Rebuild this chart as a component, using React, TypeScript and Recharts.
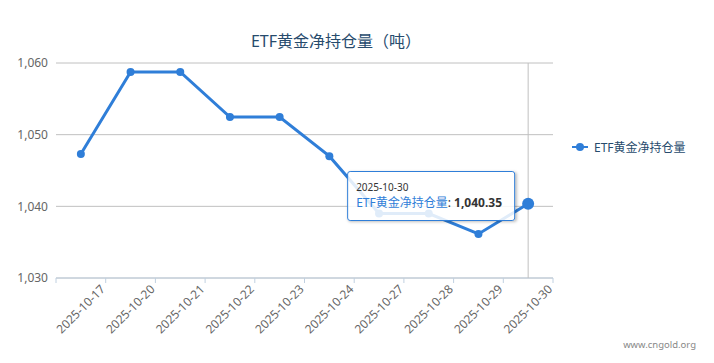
import {
  CartesianGrid,
  Legend,
  Line,
  LineChart,
  Tooltip,
  XAxis,
  YAxis,
} from "recharts";

const SERIES_NAME = "ETF黄金净持仓量";
const TITLE = "ETF黄金净持仓量（吨）";
const LINE_BLUE = "#2f7ed8";
const TITLE_COLOR = "#274b6d";
const FONT = "'Noto Sans', 'Noto Sans CJK SC', sans-serif";

const dates = [
  "2025-10-17",
  "2025-10-20",
  "2025-10-21",
  "2025-10-22",
  "2025-10-23",
  "2025-10-24",
  "2025-10-27",
  "2025-10-28",
  "2025-10-29",
  "2025-10-30",
];
const holdings = [
  1047.3, 1058.75, 1058.75, 1052.45, 1052.45, 1047.0, 1039.0, 1039.0, 1036.15,
  1040.35,
];
const yTicks = [1030, 1040, 1050, 1060];

const data = dates.map((date, i) => ({ date, value: holdings[i] }));

const fmt = (n: number, digits = 0) =>
  n.toLocaleString("en-US", {
    minimumFractionDigits: digits,
    maximumFractionDigits: digits,
  });

// 軸ラベルは -45° 回転、目盛り線はカテゴリの境界に置く
function DateTick(props: any) {
  const { x, y, payload, index, width, visibleTicksCount } = props;
  const step = width / visibleTicksCount;
  const left = x - step / 2;
  const right = x + step / 2;
  const tx = x + 25;
  const ty = y + 12;
  return (
    <g>
      <line x1={left} y1={y} x2={left} y2={y + 5} stroke="#c0d0e0" />
      {index === visibleTicksCount - 1 && (
        <line x1={right} y1={y} x2={right} y2={y + 5} stroke="#c0d0e0" />
      )}
      <text
        x={tx}
        y={ty}
        transform={`rotate(-45 ${tx} ${ty})`}
        textAnchor="end"
        fontSize={12}
        fill="#666"
        fontFamily={FONT}
      >
        {payload.value}
      </text>
    </g>
  );
}

function ChartTooltip({ active, payload, label }: any) {
  if (!active || !payload || payload.length === 0) return null;
  const p = payload[0];
  return (
    <div
      style={{
        width: 168,
        boxSizing: "border-box",
        background: "rgba(255,255,255,0.85)",
        border: `1px solid ${LINE_BLUE}`,
        borderRadius: 3,
        boxShadow: "1px 1px 3px rgba(0,0,0,0.25)",
        padding: "8px 8px 8px 8px",
        fontFamily: FONT,
        color: "#333",
        whiteSpace: "nowrap",
      }}
    >
      <div style={{ fontSize: 10, lineHeight: "14px" }}>{label}</div>
      <div style={{ fontSize: 12, lineHeight: "18px" }}>
        <span style={{ color: LINE_BLUE }}>{SERIES_NAME}</span>:{" "}
        <b>{fmt(p.value, 2)}</b>
      </div>
    </div>
  );
}

function LegendContent() {
  return (
    <div
      style={{
        display: "flex",
        alignItems: "center",
        fontFamily: FONT,
        fontSize: 12,
        color: TITLE_COLOR,
      }}
    >
      <svg width={18} height={12} style={{ marginRight: 4 }}>
        <line x1={0} y1={6} x2={16} y2={6} stroke={LINE_BLUE} strokeWidth={2} />
        <circle cx={8} cy={6} r={4} fill={LINE_BLUE} />
      </svg>
      {SERIES_NAME}
    </div>
  );
}

export default function App() {
  return (
    <div
      style={{
        position: "absolute",
        left: 0,
        top: 0,
        width: 714,
        height: 363,
        background: "#fff",
        fontFamily: FONT,
      }}
    >
      <div
        style={{
          position: "absolute",
          left: 0,
          top: 31,
          width: 672,
          textAlign: "center",
          fontSize: 16,
          lineHeight: "20px",
          color: TITLE_COLOR,
        }}
      >
        {TITLE}
      </div>
      <LineChart
        width={714}
        height={363}
        data={data}
        margin={{ top: 63, right: 21, left: 0, bottom: 0 }}
      >
        <CartesianGrid vertical={false} stroke="#c0c0c0" />
        <XAxis
          dataKey="date"
          scale="band"
          height={85}
          interval={0}
          tickSize={0}
          tickMargin={0}
          axisLine={{ stroke: "#c0d0e0" }}
          tick={<DateTick />}
        />
        <YAxis
          width={56}
          domain={[1030, 1060]}
          ticks={yTicks}
          tickFormatter={(v: number) => fmt(v)}
          tickSize={0}
          tickMargin={8}
          axisLine={false}
          tickLine={false}
          tick={{ fontSize: 12, fill: "#666", fontFamily: FONT }}
        />
        <Tooltip
          defaultIndex={9}
          offset={13}
          position={{ y: 171 }}
          cursor={{ stroke: "#c0c0c0", strokeWidth: 1 }}
          content={<ChartTooltip />}
          isAnimationActive={false}
        />
        <Legend
          layout="vertical"
          align="right"
          verticalAlign="middle"
          width={140}
          wrapperStyle={{ left: 572, top: 138, right: "auto" }}
          content={<LegendContent />}
        />
        <Line
          type="linear"
          dataKey="value"
          name={SERIES_NAME}
          stroke={LINE_BLUE}
          strokeWidth={3}
          dot={{ r: 4, fill: LINE_BLUE, stroke: LINE_BLUE, strokeWidth: 0 }}
          activeDot={{ r: 6, fill: LINE_BLUE, stroke: LINE_BLUE, strokeWidth: 0 }}
          isAnimationActive={false}
        />
      </LineChart>
      <div
        style={{
          position: "absolute",
          right: 18,
          top: 338,
          fontSize: 9.5,
          color: "#888",
          fontFamily: FONT,
        }}
      >
        www.cngold.org
      </div>
    </div>
  );
}
